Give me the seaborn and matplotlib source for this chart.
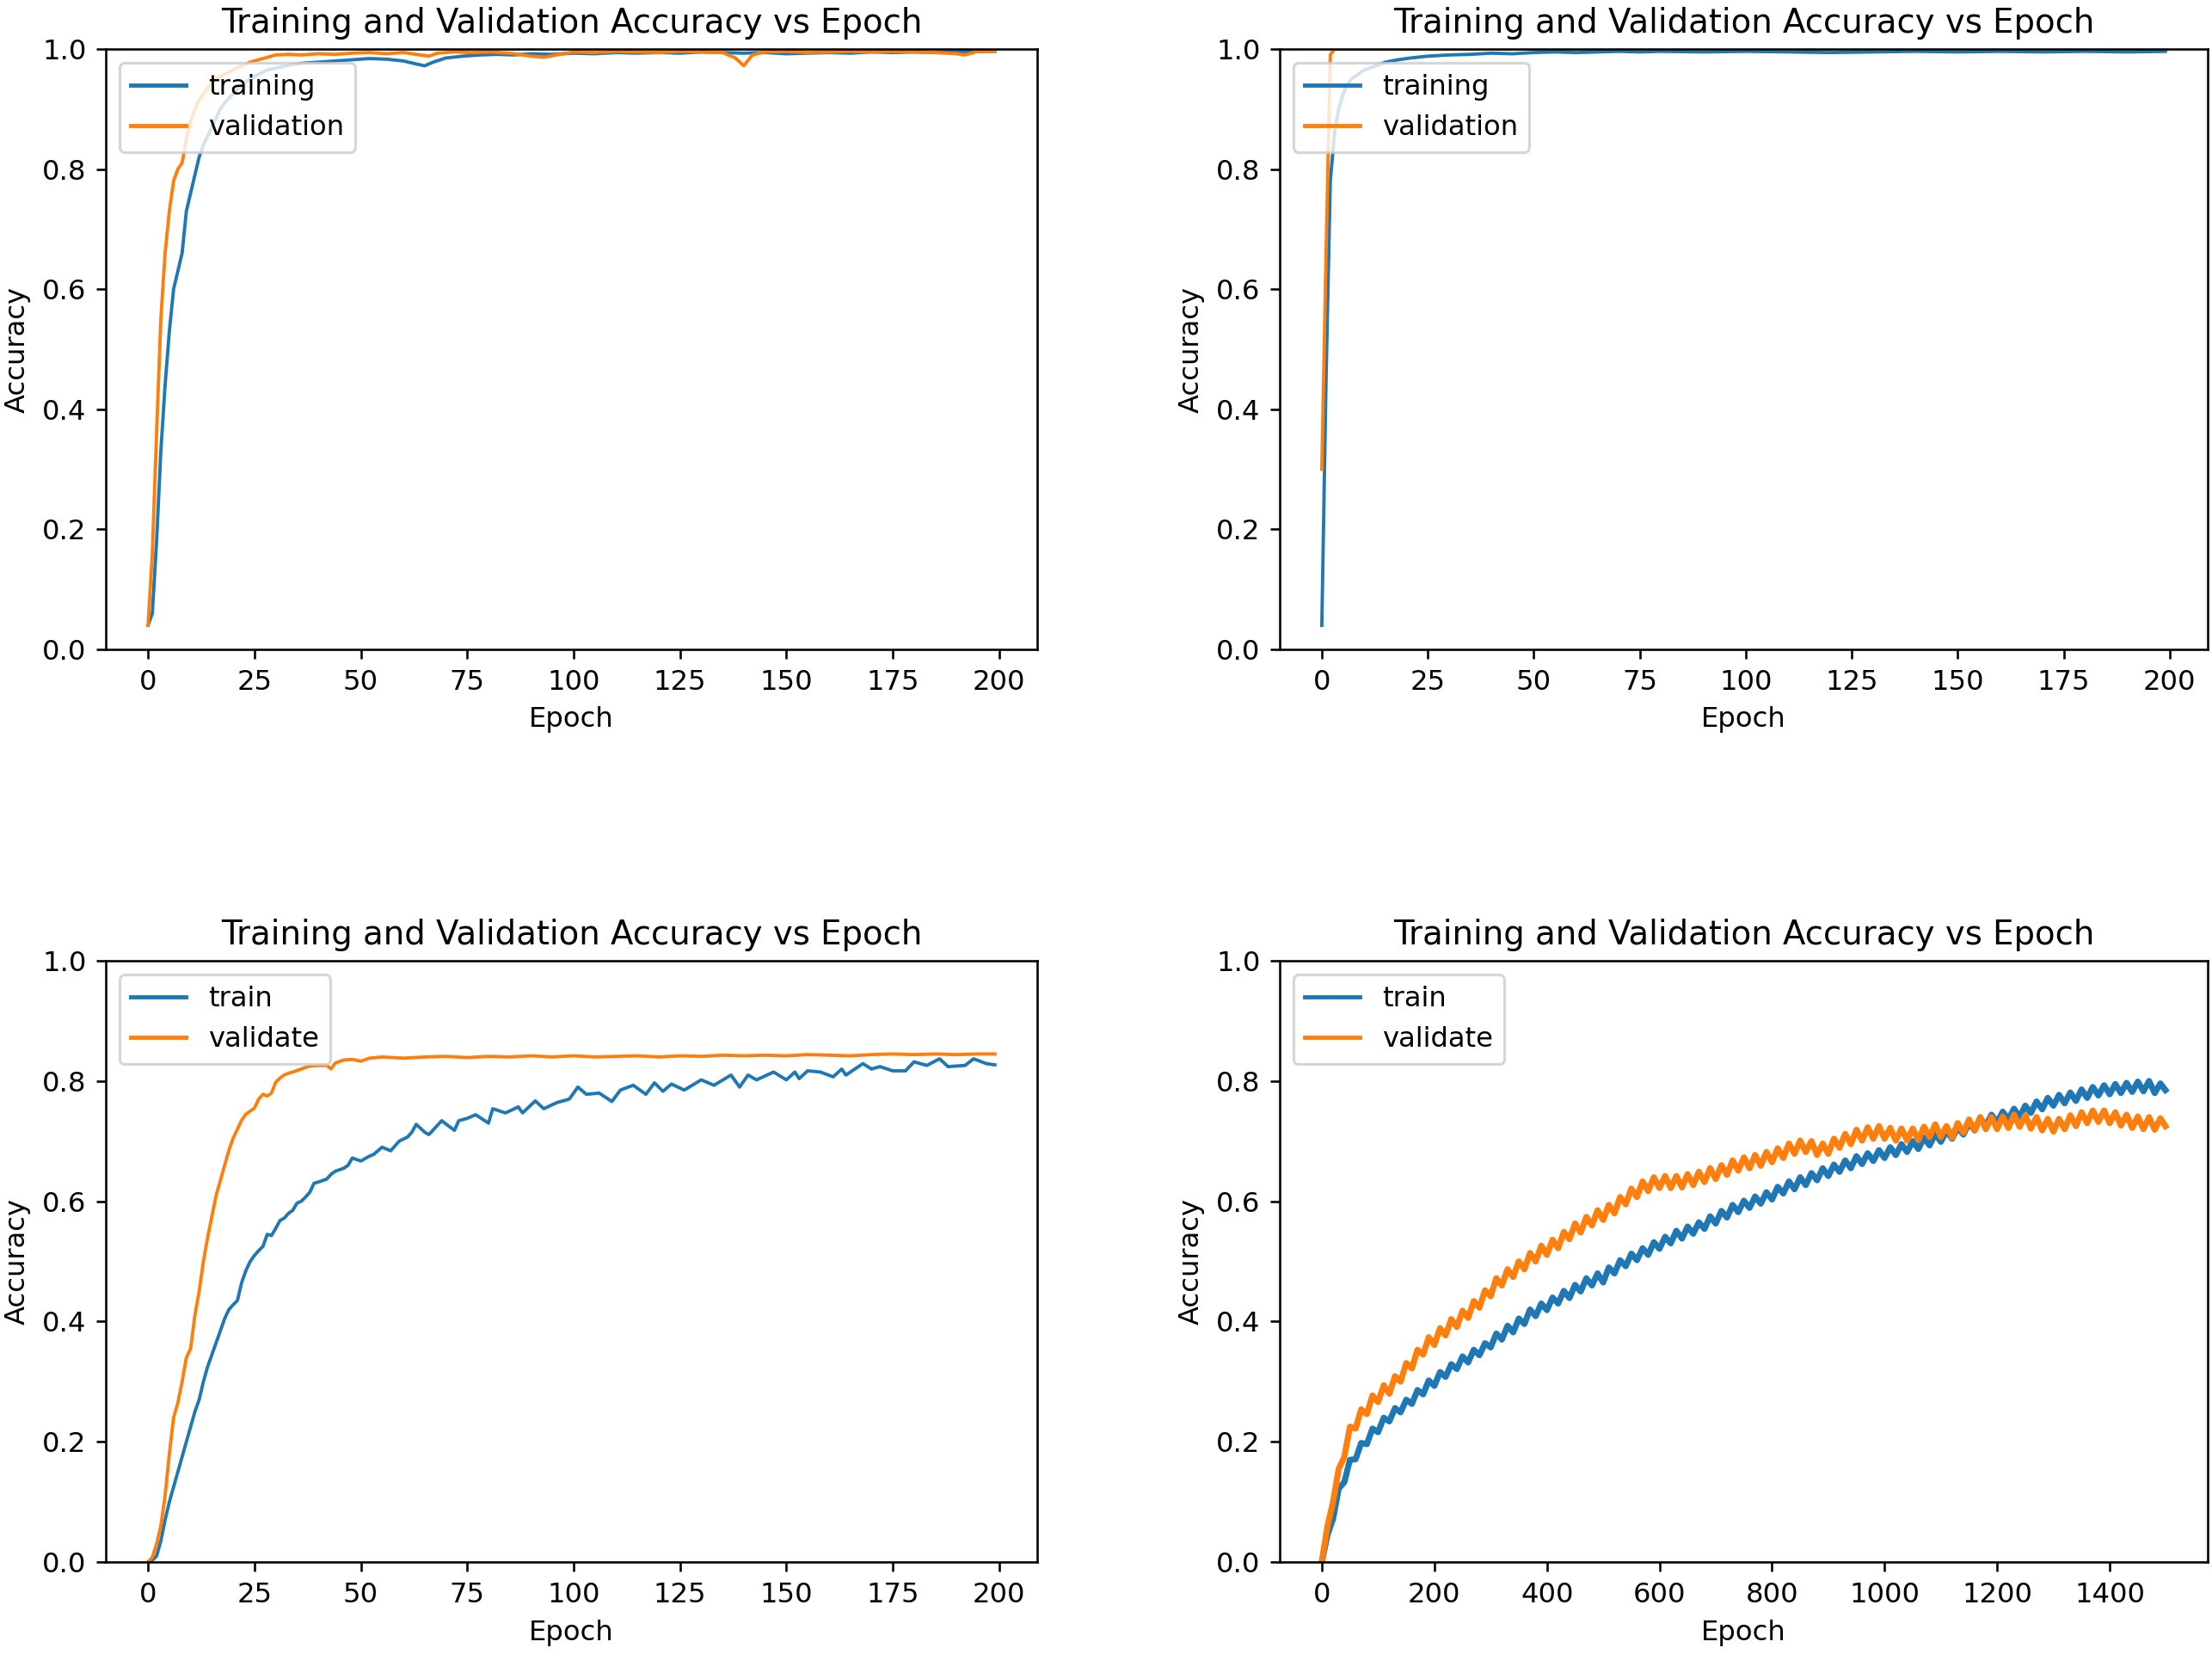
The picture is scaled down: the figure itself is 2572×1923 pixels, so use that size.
import matplotlib
matplotlib.use("Agg")
import matplotlib.pyplot as plt
import seaborn as sns
import pandas as pd

# ---------------- data ----------------
title = "Training and Validation Accuracy vs Epoch"

# Panel A (top-left)
a_train_epoch = [0,1,2,3,4,5,6,7,8,9,10,11,12,13,14,15,16,17,18,19,20,22,24,26,28,30,33,36,40,44,48,52,56,60,63,65,67,70,74,78,82,86,90,95,100,105,110,115,120,125,130,135,140,145,150,155,160,165,170,175,180,185,190,195,199]
a_train_acc = [0.04,0.06,0.18,0.33,0.44,0.53,0.6,0.63,0.66,0.73,0.76,0.79,0.82,0.84,0.855,0.87,0.885,0.9,0.91,0.918,0.925,0.94,0.95,0.958,0.965,0.968,0.973,0.976,0.978,0.98,0.982,0.984,0.983,0.98,0.975,0.972,0.978,0.985,0.988,0.99,0.991,0.99,0.992,0.991,0.993,0.992,0.994,0.993,0.994,0.993,0.995,0.994,0.993,0.994,0.992,0.993,0.994,0.993,0.995,0.994,0.995,0.994,0.995,0.996,0.996]
a_val_epoch = [0,1,2,3,4,5,6,7,8,9,10,11,12,13,14,15,16,18,20,22,24,26,28,30,33,36,40,44,48,52,56,60,64,66,68,72,76,80,85,90,93,96,100,105,110,115,120,125,130,135,138,140,142,145,150,155,160,165,170,175,180,185,190,192,195,199]
a_val_acc = [0.04,0.16,0.36,0.55,0.66,0.73,0.78,0.8,0.81,0.85,0.88,0.9,0.915,0.925,0.935,0.945,0.95,0.958,0.965,0.972,0.978,0.982,0.986,0.99,0.991,0.99,0.992,0.991,0.993,0.994,0.992,0.994,0.99,0.988,0.993,0.995,0.994,0.995,0.993,0.988,0.986,0.99,0.995,0.994,0.996,0.995,0.994,0.996,0.995,0.994,0.985,0.972,0.99,0.995,0.996,0.994,0.995,0.996,0.995,0.996,0.995,0.994,0.992,0.99,0.996,0.996]

# Panel B (top-right)
b_train_epoch = [0,1,2,3,4,5,6,7,8,10,12,15,18,21,25,30,35,40,45,50,55,60,65,70,75,80,90,100,110,120,130,140,150,160,170,180,190,199]
b_train_acc = [0.04,0.45,0.78,0.86,0.9,0.925,0.94,0.95,0.955,0.965,0.97,0.978,0.982,0.985,0.988,0.99,0.991,0.993,0.992,0.994,0.995,0.994,0.995,0.996,0.995,0.996,0.995,0.996,0.995,0.994,0.995,0.996,0.995,0.996,0.995,0.996,0.995,0.996]
b_val_epoch = [0,1,2,3,50,100,150,199]
b_val_acc = [0.30,0.66,0.99,1.0,1.0,1.0,1.0,1.0]

# Panel C (bottom-left)
c_train_epoch = [0,1,2,3,4,5,6,7,8,9,10,11,12,13,14,15,16,17,18,19,20,21,22,23,24,25,26,27,28,29,30,31,32,33,34,35,36,37,38,39,40,42,43,44,46,47,48,50,52,53,55,57,59,61,62,63,65,66,69,72,73,75,77,80,81,84,87,88,91,93,96,99,101,103,106,109,111,114,117,119,121,123,126,130,133,137,139,141,143,147,150,152,153,155,158,161,163,164,168,170,172,175,178,180,183,186,188,192,194,197,199]
c_train_acc = [0.0,0.003,0.01,0.035,0.07,0.1,0.125,0.15,0.175,0.2,0.225,0.25,0.27,0.3,0.325,0.345,0.365,0.385,0.405,0.42,0.428,0.435,0.465,0.485,0.5,0.51,0.518,0.525,0.545,0.543,0.555,0.568,0.572,0.58,0.585,0.597,0.6,0.607,0.615,0.63,0.632,0.637,0.645,0.65,0.655,0.66,0.672,0.667,0.675,0.678,0.69,0.684,0.7,0.707,0.715,0.728,0.715,0.711,0.734,0.718,0.734,0.738,0.744,0.73,0.754,0.747,0.757,0.747,0.767,0.754,0.764,0.77,0.79,0.778,0.78,0.766,0.785,0.793,0.778,0.797,0.783,0.795,0.785,0.802,0.793,0.81,0.79,0.81,0.802,0.815,0.802,0.815,0.804,0.817,0.815,0.807,0.82,0.81,0.829,0.82,0.824,0.817,0.817,0.832,0.826,0.837,0.824,0.826,0.837,0.829,0.827]
c_val_epoch = [0,1,2,3,4,5,6,7,8,9,10,11,12,13,14,15,16,17,18,19,20,21,22,23,24,25,26,27,28,29,30,31,32,33,34,36,38,40,42,43,44,46,48,50,52,55,60,65,70,75,80,85,90,95,100,105,110,115,120,125,130,135,140,145,150,155,160,165,170,175,180,185,190,195,199]
c_val_acc = [0.0,0.008,0.03,0.06,0.11,0.18,0.24,0.265,0.3,0.34,0.355,0.41,0.45,0.5,0.54,0.575,0.61,0.635,0.66,0.685,0.705,0.72,0.735,0.745,0.75,0.755,0.77,0.778,0.775,0.78,0.798,0.805,0.81,0.813,0.815,0.82,0.825,0.826,0.826,0.82,0.83,0.835,0.836,0.833,0.838,0.84,0.838,0.84,0.841,0.839,0.841,0.84,0.842,0.84,0.842,0.84,0.841,0.842,0.84,0.842,0.841,0.843,0.842,0.843,0.842,0.844,0.843,0.842,0.844,0.845,0.844,0.845,0.844,0.845,0.845]

# Panel D (bottom-right)
d_epoch = [0,10,20,30,40,50,60,70,80,90,100,110,120,130,140,150,160,170,180,190,200,210,220,230,240,250,260,270,280,290,300,310,320,330,340,350,360,370,380,390,400,410,420,430,440,450,460,470,480,490,500,510,520,530,540,550,560,570,580,590,600,610,620,630,640,650,660,670,680,690,700,710,720,730,740,750,760,770,780,790,800,810,820,830,840,850,860,870,880,890,900,910,920,930,940,950,960,970,980,990,1000,1010,1020,1030,1040,1050,1060,1070,1080,1090,1100,1110,1120,1130,1140,1150,1160,1170,1180,1190,1200,1210,1220,1230,1240,1250,1260,1270,1280,1290,1300,1310,1320,1330,1340,1350,1360,1370,1380,1390,1400,1410,1420,1430,1440,1450,1460,1470,1480,1490,1499]
d_train_acc = [0.0,0.045,0.072,0.122,0.133,0.17,0.171,0.198,0.196,0.222,0.216,0.24,0.234,0.256,0.249,0.27,0.263,0.286,0.279,0.302,0.293,0.316,0.308,0.329,0.321,0.342,0.332,0.353,0.344,0.364,0.357,0.38,0.37,0.393,0.382,0.405,0.396,0.42,0.409,0.43,0.419,0.44,0.43,0.451,0.439,0.461,0.45,0.472,0.46,0.48,0.465,0.49,0.48,0.502,0.492,0.513,0.502,0.522,0.511,0.532,0.521,0.541,0.53,0.551,0.538,0.558,0.546,0.565,0.554,0.575,0.563,0.584,0.573,0.594,0.582,0.601,0.589,0.608,0.596,0.615,0.603,0.624,0.613,0.633,0.62,0.64,0.627,0.647,0.635,0.655,0.642,0.661,0.649,0.668,0.655,0.675,0.662,0.68,0.667,0.685,0.672,0.69,0.677,0.695,0.682,0.7,0.687,0.706,0.693,0.712,0.699,0.717,0.704,0.723,0.711,0.73,0.718,0.738,0.726,0.744,0.731,0.749,0.736,0.754,0.74,0.759,0.747,0.766,0.753,0.772,0.759,0.777,0.763,0.781,0.767,0.786,0.772,0.79,0.776,0.793,0.778,0.795,0.78,0.797,0.782,0.799,0.783,0.8,0.78,0.796,0.785]
d_val_acc = [0.0,0.06,0.1,0.155,0.175,0.225,0.222,0.254,0.246,0.277,0.266,0.294,0.28,0.309,0.3,0.331,0.322,0.353,0.345,0.374,0.361,0.389,0.377,0.404,0.391,0.418,0.406,0.434,0.423,0.452,0.442,0.472,0.46,0.487,0.474,0.5,0.487,0.514,0.5,0.526,0.511,0.536,0.522,0.549,0.537,0.563,0.548,0.574,0.56,0.585,0.569,0.594,0.58,0.607,0.595,0.621,0.607,0.633,0.617,0.64,0.622,0.642,0.622,0.642,0.623,0.645,0.627,0.649,0.632,0.655,0.637,0.66,0.644,0.668,0.651,0.673,0.655,0.677,0.659,0.682,0.665,0.688,0.672,0.696,0.679,0.701,0.682,0.7,0.677,0.696,0.679,0.704,0.689,0.712,0.695,0.719,0.701,0.723,0.704,0.725,0.704,0.722,0.701,0.721,0.701,0.721,0.702,0.724,0.707,0.728,0.707,0.725,0.706,0.73,0.714,0.736,0.718,0.74,0.72,0.74,0.72,0.741,0.722,0.744,0.724,0.743,0.721,0.74,0.718,0.737,0.716,0.737,0.72,0.743,0.725,0.748,0.73,0.751,0.732,0.751,0.73,0.748,0.726,0.744,0.722,0.741,0.72,0.74,0.719,0.738,0.725]

y_ticks = [0.0, 0.2, 0.4, 0.6, 0.8, 1.0]
x_ticks_200 = [0, 25, 50, 75, 100, 125, 150, 175, 200]
x_ticks_1500 = [0, 200, 400, 600, 800, 1000, 1200, 1400]

BLUE = "#1f77b4"
ORANGE = "#ff7f0e"

# ---------------- figure ----------------
DPI = 232
fig = plt.figure(figsize=(2572 / DPI, 1923 / DPI), dpi=DPI)

positions = [
    [0.0478, 0.6074, 0.4211, 0.3630],
    [0.5785, 0.6074, 0.4195, 0.3630],
    [0.0478, 0.0556, 0.4211, 0.3635],
    [0.5785, 0.0556, 0.4195, 0.3635],
]

panels = [
    (a_train_epoch, a_train_acc, a_val_epoch, a_val_acc, "training", "validation", x_ticks_200, 1.2),
    (b_train_epoch, b_train_acc, b_val_epoch, b_val_acc, "training", "validation", x_ticks_200, 1.2),
    (c_train_epoch, c_train_acc, c_val_epoch, c_val_acc, "train", "validate", x_ticks_200, 1.2),
    (d_epoch, d_train_acc, d_epoch, d_val_acc, "train", "validate", x_ticks_1500, 2.2),
]

for pos, (te, ta, ve, va, tl, vl, xt, lw) in zip(positions, panels):
    ax = fig.add_axes(pos)
    dt = pd.DataFrame({"Epoch": te, "Accuracy": ta})
    dv = pd.DataFrame({"Epoch": ve, "Accuracy": va})
    sns.lineplot(data=dt, x="Epoch", y="Accuracy", ax=ax, color=BLUE,
                 label=tl, estimator=None, sort=False, linewidth=lw)
    sns.lineplot(data=dv, x="Epoch", y="Accuracy", ax=ax, color=ORANGE,
                 label=vl, estimator=None, sort=False, linewidth=lw)
    ax.set_ylim(0, 1.0)
    xmax = max(te[-1], ve[-1])
    ax.set_xlim(-0.05 * xmax, xmax * 1.05)
    ax.set_yticks(y_ticks)
    ax.set_xticks(xt)
    ax.set_title(title)
    ax.set_xlabel("Epoch")
    ax.set_ylabel("Accuracy")
    leg = ax.legend(loc="upper left")
    for line in leg.get_lines():
        line.set_linewidth(1.5)

fig.savefig("out.png", dpi=DPI)
